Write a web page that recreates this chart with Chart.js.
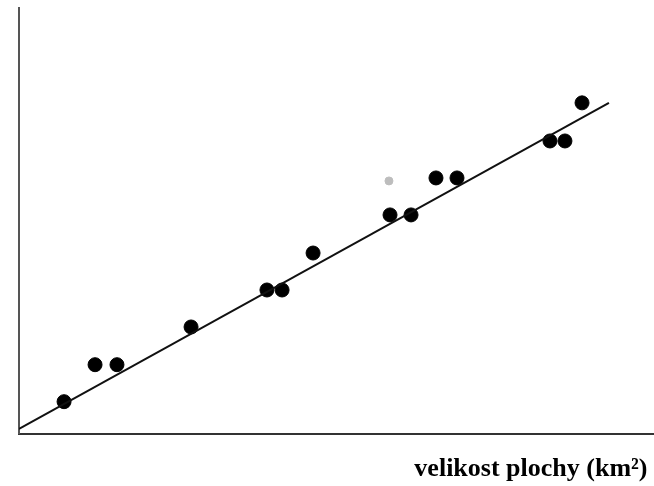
<!DOCTYPE html>
<html>
<head>
<meta charset="utf-8">
<script src="https://cdn.jsdelivr.net/npm/chart.js@4"></script>
<style>
  html, body { margin: 0; padding: 0; background: #fff; }
  #wrap { width: 654px; height: 486px; }
</style>
</head>
<body>
<div id="wrap"><canvas id="plot"></canvas></div>
<script>
// measured points (area on x, count on y)
const areaX  = [2.98, 5.03, 6.48, 11.38, 16.40, 17.40, 19.45, 24.54, 25.93, 27.58, 28.97, 35.12, 36.11, 37.24];
const countY = [0.86, 1.85, 1.85, 2.86, 3.85, 3.85, 4.84, 5.86, 5.86, 6.85, 6.85, 7.84, 7.84, 8.86];
// faint grey mark in the scan
const greyX = [24.47];
const greyY = [6.77];
// fitted line end points
const fitX = [0, 39.02];
const fitY = [0.13, 8.86];
// trailing space keeps the title off the right edge
const xTitle = 'velikost plochy (km\u00B2) ';

const toXY = (xs, ys) => xs.map((x, i) => ({ x: x, y: ys[i] }));

new Chart(document.getElementById('plot'), {
    type: 'scatter',
    data: {
        datasets: [
            {
                type: 'line',
                data: toXY(fitX, fitY),
                borderColor: '#111',
                borderWidth: 2,
                pointRadius: 0,
                fill: false
            },
            {
                data: toXY(areaX, countY),
                backgroundColor: '#000',
                borderColor: '#000',
                pointRadius: 7,
                pointHoverRadius: 7
            },
            {
                data: toXY(greyX, greyY),
                backgroundColor: '#bdbdbd',
                borderColor: '#bdbdbd',
                pointRadius: 4
            }
        ]
    },
    options: {
        responsive: true,
        maintainAspectRatio: false,
        animation: false,
        layout: { autoPadding: false, padding: { left: 19, top: 8, right: 0, bottom: 0 } },
        plugins: { legend: { display: false }, tooltip: { enabled: false } },
        scales: {
            x: {
                type: 'linear',
                min: 0,
                max: 42,
                grid: { display: false, drawTicks: false },
                border: { display: true, color: '#333', width: 2 },
                ticks: { display: false },
                title: {
                    display: true,
                    text: xTitle,
                    align: 'end',
                    color: '#000',
                    font: { family: 'Liberation Serif', size: 26, weight: 'bold' },
                    padding: { top: 20, bottom: 1 }
                }
            },
            y: {
                type: 'linear',
                min: 0,
                max: 11.4,
                grid: { display: false, drawTicks: false },
                border: { display: true, color: '#555', width: 2 },
                ticks: { display: false }
            }
        }
    }
});
</script>
</body>
</html>
